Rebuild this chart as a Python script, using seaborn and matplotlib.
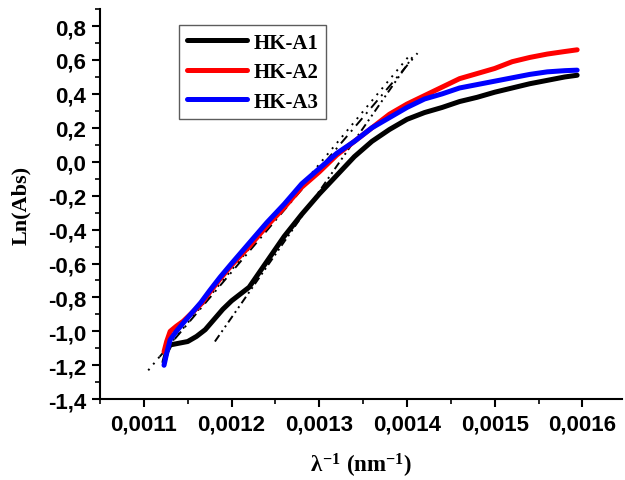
import matplotlib
matplotlib.use("Agg")
import matplotlib.pyplot as plt
from matplotlib.ticker import FuncFormatter, MultipleLocator
import pandas as pd
import seaborn as sns

# ------------------------------------------------------------------
# data
x_a1 = [0.001123, 0.001126, 0.00113, 0.00114, 0.00115, 0.00116, 0.00117, 0.00118,
        0.00119, 0.0012, 0.00121, 0.00122, 0.00124, 0.00126, 0.00128, 0.0013,
        0.00132, 0.00134, 0.00136, 0.00138, 0.0014, 0.00142, 0.00144, 0.00146,
        0.00148, 0.0015, 0.00152, 0.00154, 0.00156, 0.00158, 0.001594]
y_a1 = [-1.18, -1.12, -1.08, -1.07, -1.06, -1.03, -0.99, -0.93,
        -0.87, -0.82, -0.78, -0.74, -0.59, -0.44, -0.31, -0.19,
        -0.08, 0.03, 0.12, 0.19, 0.25, 0.29, 0.32, 0.355,
        0.38, 0.41, 0.435, 0.46, 0.48, 0.50, 0.51]

x_a2 = [0.001123, 0.001126, 0.00113, 0.001137, 0.001145, 0.001155, 0.001165, 0.001175,
        0.001187, 0.0012, 0.00122, 0.00124, 0.00126, 0.00128, 0.0013, 0.00132,
        0.00134, 0.00136, 0.00138, 0.0014, 0.00142, 0.00144, 0.00146, 0.00148,
        0.0015, 0.00152, 0.00154, 0.00156, 0.00158, 0.001594]
y_a2 = [-1.12, -1.06, -1.00, -0.97, -0.94, -0.89, -0.84, -0.77,
        -0.69, -0.61, -0.50, -0.38, -0.27, -0.15, -0.06, 0.04,
        0.12, 0.20, 0.28, 0.34, 0.39, 0.44, 0.49, 0.52,
        0.55, 0.59, 0.615, 0.635, 0.65, 0.66]

x_a3 = x_a2
y_a3 = [-1.20, -1.13, -1.05, -1.00, -0.95, -0.89, -0.83, -0.76,
        -0.68, -0.60, -0.48, -0.36, -0.25, -0.13, -0.04, 0.05,
        0.12, 0.20, 0.26, 0.32, 0.37, 0.40, 0.435, 0.455,
        0.475, 0.495, 0.515, 0.53, 0.537, 0.54]

labels = ["HK-A1", "HK-A2", "HK-A3"]
colors = ["black", "red", "blue"]

# linear fit lines (start, end)
fit1_x = [0.001105, 0.001405]
fit1_y = [-1.23, 0.64]
fit2_x = [0.001118, 0.001412]
fit2_y = [-1.15, 0.64]
fit3_x = [0.001181, 0.001408]
fit3_y = [-1.06, 0.63]

# ------------------------------------------------------------------
sns.set_style("ticks")
plt.rcParams["font.family"] = ["Liberation Sans", "DejaVu Sans"]
plt.rcParams["font.weight"] = "bold"
plt.rcParams["text.color"] = "black"
plt.rcParams["axes.labelcolor"] = "black"
plt.rcParams["xtick.color"] = "black"
plt.rcParams["ytick.color"] = "black"
plt.rcParams["mathtext.fontset"] = "custom"
plt.rcParams["mathtext.rm"] = "Liberation Serif:bold"
plt.rcParams["mathtext.bf"] = "Liberation Serif:bold"
plt.rcParams["mathtext.it"] = "Liberation Serif:bold"

df = pd.concat([
    pd.DataFrame({"x": x_a1, "y": y_a1, "sample": labels[0]}),
    pd.DataFrame({"x": x_a2, "y": y_a2, "sample": labels[1]}),
    pd.DataFrame({"x": x_a3, "y": y_a3, "sample": labels[2]}),
])

fig = plt.figure(figsize=(6.25, 4.81), dpi=100)
ax = fig.add_axes([0.16, 0.168, 0.835, 0.811])

# fit lines below the curves
ax.plot(fit1_x, fit1_y, color="black", lw=1.4, ls=(0, (1, 3)))
ax.plot(fit2_x, fit2_y, color="black", lw=1.4, ls=(0, (5, 3, 1, 3)))
ax.plot(fit3_x, fit3_y, color="black", lw=1.4, ls=(0, (4, 2, 1, 2, 1, 2)))

sns.lineplot(data=df, x="x", y="y", hue="sample", palette=colors,
             sort=False, lw=3.6, ax=ax, legend=True)

ax.set_xlim(0.00105, 0.001645)
ax.set_ylim(-1.4, 0.9)

ax.xaxis.set_major_locator(MultipleLocator(0.0001))
ax.xaxis.set_minor_locator(MultipleLocator(0.00005))
ax.yaxis.set_major_locator(MultipleLocator(0.2))
ax.yaxis.set_minor_locator(MultipleLocator(0.1))
ax.xaxis.set_major_formatter(FuncFormatter(lambda v, p: f"{v:.4f}".replace(".", ",")))
ax.yaxis.set_major_formatter(FuncFormatter(lambda v, p: f"{v:.1f}".replace(".", ",").replace("-0,0", "0,0")))

ax.tick_params(which="major", direction="out", length=6, width=1.5, labelsize=16, pad=4)
ax.tick_params(which="minor", direction="out", length=3.5, width=1.2)

for side in ["top", "right"]:
    ax.spines[side].set_visible(False)
for side in ["left", "bottom"]:
    ax.spines[side].set_linewidth(1.5)
    ax.spines[side].set_color("black")

ax.set_ylabel("Ln(Abs)", fontsize=16, fontweight="bold", family="Liberation Serif", labelpad=12)
ax.set_xlabel(r"$\lambda^{-1}$ (nm$^{-1}$)", fontsize=16.5, fontweight="bold",
              family="Liberation Serif", labelpad=12)

leg = ax.legend(loc="upper left", bbox_to_anchor=(0.152, 0.958), frameon=True,
                fancybox=False, handlelength=2.9, handletextpad=0.3,
                borderpad=0.35, labelspacing=0.45, borderaxespad=0,
                prop={"family": "Liberation Serif", "weight": "bold", "size": 15})
leg.get_frame().set_edgecolor("#333333")
leg.get_frame().set_linewidth(1.0)
for line in leg.get_lines():
    line.set_linewidth(3.6)

fig.savefig("out.png", dpi=100)
